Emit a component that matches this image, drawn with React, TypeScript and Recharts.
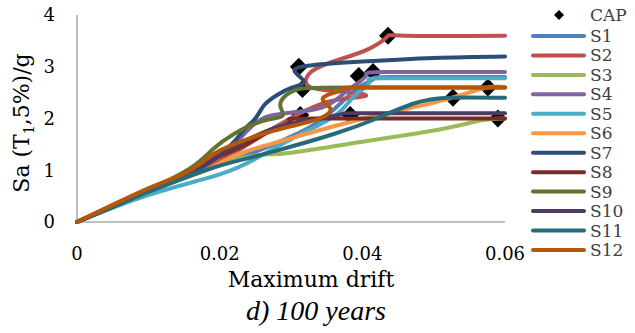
import { ScatterChart, Scatter, XAxis, YAxis } from "recharts";

type Pt = { x: number; y: number };
const pts = (arr: number[][]): Pt[] => arr.map(([x, y]) => ({ x, y }));

const X_TICKS = [0, 0.02, 0.04, 0.06];
const Y_TICKS = [0, 1, 2, 3, 4];

const CAP = pts([
  [0.0311, 3.0], [0.0316, 2.57], [0.0436, 3.6], [0.0395, 2.82], [0.0415, 2.9],
  [0.0383, 2.07], [0.0313, 2.07], [0.0527, 2.4], [0.0576, 2.6], [0.059, 2.0],
]);

const S1 = pts([[0, 0], [0.01, 0.58], [0.018, 1.0], [0.024, 1.3], [0.03, 1.65], [0.034, 1.95], [0.037, 2.3], [0.0395, 2.6], [0.0415, 2.76], [0.044, 2.8], [0.06, 2.8]]);
const S2 = pts([[0, 0], [0.01, 0.62], [0.018, 1.05], [0.024, 1.5], [0.028, 1.85], [0.032, 2.15], [0.036, 2.35], [0.0405, 2.44], [0.037, 2.52], [0.0325, 2.62], [0.033, 2.92], [0.037, 3.15], [0.041, 3.35], [0.0435, 3.58], [0.046, 3.6], [0.06, 3.6]]);
const S3 = pts([[0, 0], [0.01, 0.58], [0.018, 1.0], [0.022, 1.2], [0.026, 1.3], [0.03, 1.34], [0.04, 1.55], [0.048, 1.72], [0.053, 1.85], [0.057, 1.97], [0.06, 2.0]]);
const S4 = pts([[0, 0], [0.01, 0.6], [0.018, 1.1], [0.022, 1.5], [0.0245, 1.85], [0.027, 2.05], [0.031, 2.13], [0.035, 2.25], [0.038, 2.55], [0.0405, 2.82], [0.043, 2.9], [0.06, 2.9]]);
const S5 = pts([[0, 0], [0.01, 0.52], [0.02, 0.92], [0.025, 1.22], [0.03, 1.6], [0.034, 1.88], [0.037, 2.15], [0.039, 2.45], [0.041, 2.7], [0.043, 2.78], [0.06, 2.78]]);
const S6 = pts([[0, 0], [0.01, 0.6], [0.018, 1.0], [0.022, 1.28], [0.027, 1.5], [0.036, 1.85], [0.045, 2.15], [0.052, 2.38], [0.0575, 2.6], [0.06, 2.6]]);
const S7 = pts([[0, 0], [0.01, 0.6], [0.018, 1.1], [0.0222, 1.58], [0.0235, 1.8], [0.025, 2.0], [0.0262, 2.25], [0.028, 2.45], [0.0302, 2.6], [0.0318, 2.72], [0.0305, 2.92], [0.033, 3.03], [0.04, 3.1], [0.05, 3.17], [0.06, 3.2]]);
const S8 = pts([[0, 0], [0.01, 0.6], [0.018, 1.15], [0.023, 1.45], [0.027, 1.75], [0.03, 1.95], [0.033, 2.0], [0.06, 2.0]]);
const S9 = pts([[0, 0], [0.01, 0.62], [0.016, 1.05], [0.019, 1.4], [0.022, 1.7], [0.026, 1.95], [0.0288, 2.05], [0.0285, 2.25], [0.0295, 2.47], [0.0315, 2.58], [0.038, 2.6], [0.06, 2.6]]);
const S10 = pts([[0, 0], [0.01, 0.6], [0.018, 1.15], [0.022, 1.45], [0.027, 1.78], [0.032, 1.95], [0.037, 2.08], [0.04, 2.1], [0.06, 2.1]]);
const S11 = pts([[0, 0], [0.01, 0.58], [0.018, 1.0], [0.023, 1.2], [0.028, 1.38], [0.036, 1.7], [0.042, 2.0], [0.047, 2.28], [0.052, 2.4], [0.06, 2.4]]);
const S12 = pts([[0, 0], [0.01, 0.65], [0.0155, 0.97], [0.019, 1.3], [0.022, 1.5], [0.026, 1.7], [0.03, 1.85], [0.034, 2.0], [0.0355, 2.2], [0.0345, 2.4], [0.037, 2.55], [0.04, 2.6], [0.06, 2.6]]);

const SERIES = [
  { name: "S1", data: S1, color: "#4F81BD" },
  { name: "S2", data: S2, color: "#C0504D" },
  { name: "S3", data: S3, color: "#9BBB59" },
  { name: "S4", data: S4, color: "#8064A2" },
  { name: "S5", data: S5, color: "#4BACC6" },
  { name: "S6", data: S6, color: "#F79646" },
  { name: "S7", data: S7, color: "#2C4D75" },
  { name: "S8", data: S8, color: "#772C2A" },
  { name: "S9", data: S9, color: "#5F7530" },
  { name: "S10", data: S10, color: "#4D3B62" },
  { name: "S11", data: S11, color: "#276A7C" },
  { name: "S12", data: S12, color: "#B65708" },
];

const FONT = "'DejaVu Serif', serif";

const Diamond = (props: any) => {
  const { cx, cy } = props;
  const r = 9;
  return <polygon points={`${cx},${cy - r} ${cx + r},${cy} ${cx},${cy + r} ${cx - r},${cy}`} fill="#000" />;
};

const NoDot = () => <g />;

export default function App() {
  return (
    <div style={{ position: "absolute", left: 0, top: 0, width: 635, height: 333, background: "#fff" }}>
      <ScatterChart width={635} height={333} margin={{ top: 15, right: 130, bottom: 71, left: 0 }}>
        <XAxis
          type="number" dataKey="x" domain={[0, 0.06]} ticks={X_TICKS} height={40}
          stroke="#BFBFBF" strokeWidth={2} tickLine={false} tickSize={0} tickMargin={25}
          tick={{ fill: "#000", fontSize: 18, fontFamily: FONT }}
        />
        <YAxis
          type="number" dataKey="y" domain={[0, 4]} ticks={Y_TICKS} width={77}
          stroke="#BFBFBF" strokeWidth={2} tickLine={false} tickSize={0} tickMargin={22}
          tick={{ fill: "#000", fontSize: 18, fontFamily: FONT }}
        />
        <Scatter data={CAP} fill="#000" shape={Diamond} isAnimationActive={false} />
        {SERIES.map(s => (
          <Scatter
            key={s.name}
            data={s.data}
            line={{ stroke: s.color, strokeWidth: 4, strokeLinecap: "round", strokeLinejoin: "round" }}
            lineJointType="natural"
            shape={NoDot}
            isAnimationActive={false}
          />
        ))}
      </ScatterChart>

      <svg width={635} height={333} style={{ position: "absolute", left: 0, top: 0, pointerEvents: "none" }}>
        <text
          transform="translate(29,123) rotate(-90)" textAnchor="middle"
          fontFamily={FONT} fontSize={22} fill="#000"
        >
          Sa (T<tspan fontSize={14} dy={5}>1</tspan><tspan dy={-5}>,5%)/g</tspan>
        </text>
        <text x={311} y={287} textAnchor="middle" fontFamily={FONT} fontSize={22} fill="#000">
          Maximum drift
        </text>
        <text
          x={316} y={320} textAnchor="middle" fontFamily="'Liberation Serif', serif"
          fontStyle="italic" fontSize={28} fill="#000"
        >
          d) 100 years
        </text>

        {/* legend */}
        <polygon points="559,10 564,15 559,20 554,15" fill="#000" />
        <text x={590} y={21} fontFamily={FONT} fontSize={17} fill="#404040">CAP</text>
        {SERIES.map((s, i) => {
          const y = 36 + i * 19.45;
          return (
            <g key={s.name}>
              <line x1={533} x2={584} y1={y} y2={y} stroke={s.color} strokeWidth={4} strokeLinecap="round" />
              <text x={590} y={y + 6} fontFamily={FONT} fontSize={17} fill="#404040">{s.name}</text>
            </g>
          );
        })}
      </svg>
    </div>
  );
}
